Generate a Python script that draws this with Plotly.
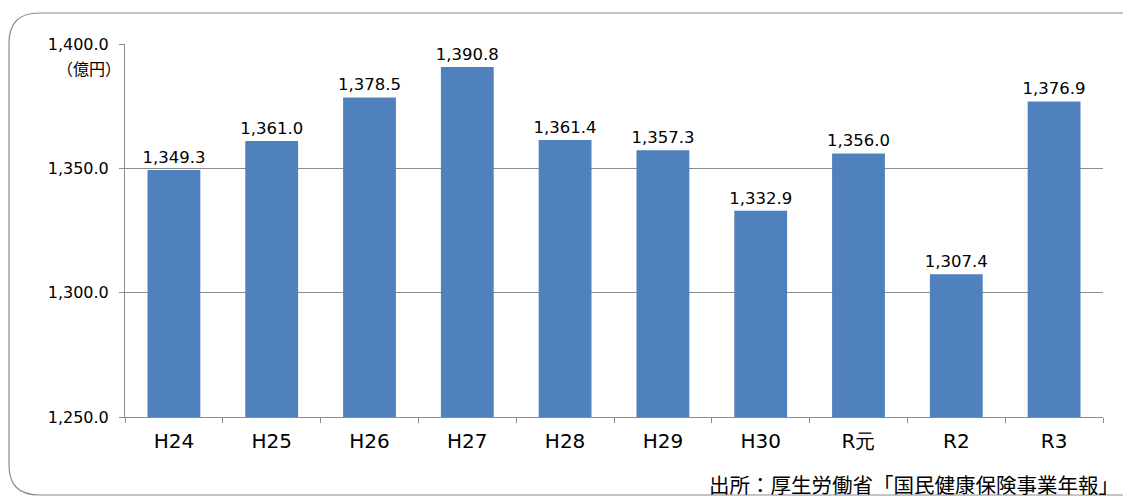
import plotly.graph_objects as go

years = ['H24', 'H25', 'H26', 'H27', 'H28', 'H29', 'H30', 'R元', 'R2', 'R3']
amount = [1349.3, 1361.0, 1378.5, 1390.8, 1361.4, 1357.3, 1332.9, 1356.0, 1307.4, 1376.9]
labels = [f'{v:,.1f}' for v in amount]

# page body has an 8px margin, so the figure is drawn from (8, 8)
OFF = 8
W, H = 1131, 498
PX0, PX1, PY0, PY1 = 125, 1103, 44, 417   # plot area in screenshot pixels
pw, ph = PX1 - PX0, PY1 - PY0

def px2paper(x, y):
    return (x - PX0) / pw, (PY1 - y) / ph

# rounded frame around the chart
x0, y0, x1, y1, rad = 9, 13, 1160, 495, 30
def P(x, y):
    a, b = px2paper(x, y)
    return f'{a:.5f},{b:.5f}'
frame = (f'M {P(x0, y0 + rad)} Q {P(x0, y0)} {P(x0 + rad, y0)} L {P(x1 - rad, y0)} '
         f'Q {P(x1, y0)} {P(x1, y0 + rad)} L {P(x1, y1 - rad)} Q {P(x1, y1)} {P(x1 - rad, y1)} '
         f'L {P(x0 + rad, y1)} Q {P(x0, y1)} {P(x0, y1 - rad)} Z')

latin = 'DejaVu Sans, sans-serif'
cjk = 'Noto Sans CJK JP'

fig = go.Figure(go.Bar(
    x=years, y=amount, text=labels, textposition='outside',
    constraintext='none',
    textfont=dict(size=16.5, color='#000000', family=latin),
    marker=dict(color='#4F81BD', line=dict(width=0)),
    cliponaxis=False,
))

fig.update_layout(
    width=W - OFF, height=H - OFF,
    margin=dict(l=PX0 - OFF, r=W - PX1, t=PY0 - OFF, b=H - PY1, pad=0),
    paper_bgcolor='white', plot_bgcolor='white',
    bargap=0.46,
    showlegend=False,
    font=dict(family=latin, color='#000000'),
    shapes=[dict(type='path', xref='paper', yref='paper', path=frame,
                 line=dict(color='#8c8c8c', width=1.2), layer='below')],
    annotations=[
        dict(text='（億円）', xref='paper', yref='paper', x=px2paper(123, 0)[0], y=px2paper(0, 68)[1],
             xanchor='right', yanchor='middle', showarrow=False, font=dict(size=16, family=cjk)),
        dict(text='出所：厚生労働省「国民健康保険事業年報」', xref='paper', yref='paper',
             x=px2paper(1121, 0)[0], y=px2paper(0, 484)[1], xanchor='right', yanchor='middle',
             showarrow=False, font=dict(size=20.5, family=cjk)),
    ],
)

fig.update_xaxes(
    showline=True, linecolor='#8c8c8c', linewidth=1,
    ticks='outside', tickson='boundaries', ticklen=5, tickcolor='#8c8c8c',
    tickfont=dict(size=20, family=latin), showgrid=False, ticklabelstandoff=6,
)
fig.update_yaxes(
    range=[1250, 1400], tickvals=[1250, 1300, 1350, 1400],
    ticktext=['1,250.0', '1,300.0', '1,350.0', '1,400.0'],
    showline=True, linecolor='#8c8c8c', linewidth=1,
    ticks='outside', ticklen=5, tickcolor='#8c8c8c',
    showgrid=True, gridcolor='#8c8c8c', gridwidth=1,
    tickfont=dict(size=16, family=latin), zeroline=False, ticklabelstandoff=7,
)

fig.write_html('out.html', config={'displayModeBar': False})
